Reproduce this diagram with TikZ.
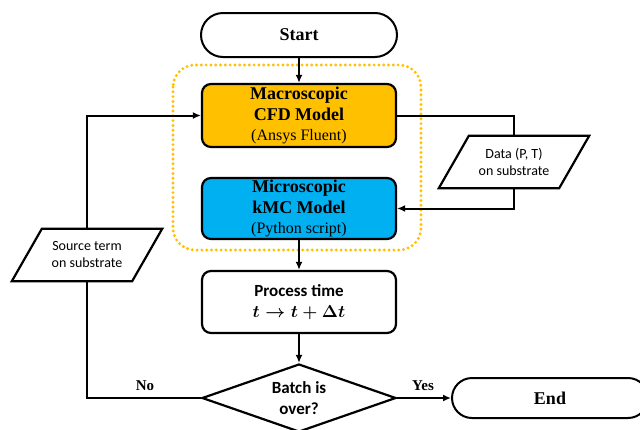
\documentclass[tikz,border=0pt]{standalone}
\usepackage{fontspec}
\usepackage{amsmath}
\setmainfont{Liberation Serif}
\newfontfamily\calibri{Carlito}
\usetikzlibrary{shapes.geometric,arrows.meta,calc}
\definecolor{cfdorange}{HTML}{FFC000}
\definecolor{kmcblue}{HTML}{00B0F0}
\begin{document}
\begin{tikzpicture}[x=1pt,y=-1pt,
 box/.style={draw,line width=2.2pt,rounded corners=9pt,minimum width=194pt,align=center,inner sep=0pt,font=\fontsize{18}{20.5}\selectfont},
 term/.style={draw,line width=2pt,rounded corners=22pt,minimum width=196pt,minimum height=44pt,font=\bfseries\fontsize{18}{21}\selectfont},
 io/.style={minimum width=120pt,minimum height=52pt,align=center,font=\calibri\fontsize{14}{17}\selectfont,inner sep=0pt},
 ioline/.style={line width=2.2pt,line join=miter},
 conn/.style={line width=2pt},
 arr/.style={conn,-{Latex[length=8pt,width=7pt]}},
 lbl/.style={font=\bfseries\fontsize{15}{18}\selectfont}]
\useasboundingbox (0,0) rectangle (640,429);
\draw[cfdorange, line width=3.2pt, dash pattern=on 0pt off 4.8pt, line cap=round, rounded corners=22pt] (173,65) rectangle (421,250);
\node[term] (start) at (299,35) {Start};
\node[box,fill=cfdorange,minimum height=63pt] (cfd) at (299,115.5) {\textbf{Macroscopic}\\\textbf{CFD Model}\\{\fontsize{16}{20.5}\selectfont(Ansys Fluent)}};
\node[box,fill=kmcblue,minimum height=61pt] (kmc) at (299,208.5) {\textbf{Microscopic}\\\textbf{kMC Model}\\{\fontsize{16}{20.5}\selectfont(Python script)}};
\node[box,fill=white,minimum height=62pt,font=\calibri\bfseries\fontsize{17}{21}\selectfont] (proc) at (299,302) {Process time\\$\boldsymbol{t\rightarrow t+\Delta t}$};
\node[draw,line width=2.2pt,diamond,aspect=2.85,inner sep=0pt,minimum width=194pt,minimum height=68pt,align=center,font=\calibri\bfseries\fontsize{17}{21}\selectfont] (dec) at (299,398) {Batch is\\over?};
\node[term,minimum height=40pt,rounded corners=20pt] (end) at (550,398) {End};
\node[io] (src) at (87,255) {Source term\\on substrate};
\draw[ioline] ($(src.south west)+(-15,0)$) -- ($(src.south east)+(-15,0)$) -- ($(src.north east)+(15,0)$) -- ($(src.north west)+(15,0)$) -- cycle;
\node[io] (data) at (514,162) {Data (P, T)\\on substrate};
\draw[ioline] ($(data.south west)+(-15,0)$) -- ($(data.south east)+(-15,0)$) -- ($(data.north east)+(15,0)$) -- ($(data.north west)+(15,0)$) -- cycle;
\node[lbl] (no) at (145,386) {No};
\node[lbl] (yes) at (423,386) {Yes};
\draw[arr] (start) -- (cfd);
\draw[arr] (kmc) -- (proc);
\draw[arr] (proc) -- (dec);
\draw[arr] (dec) -- (end);
\draw[conn] (dec.west) -| (src.south);
\draw[arr] (src.north) |- (cfd.west);
\draw[conn] (cfd.east) -| (data.north);
\draw[arr] (data.south) |- (kmc.east);
\end{tikzpicture}
\end{document}
